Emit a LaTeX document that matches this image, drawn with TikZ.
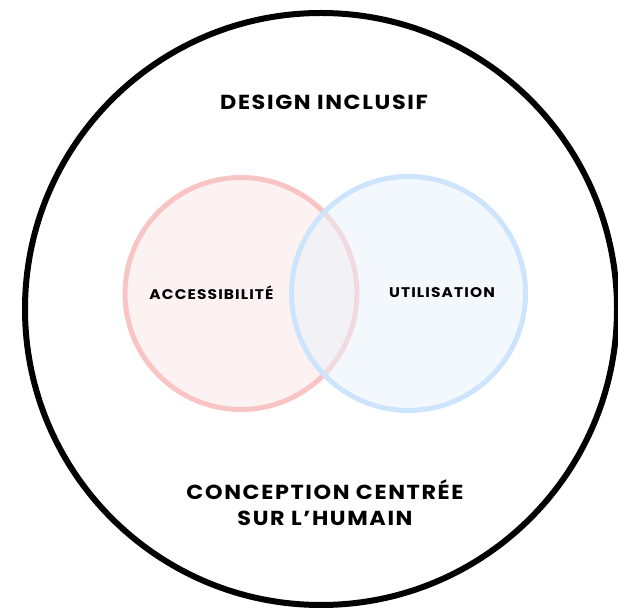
\documentclass[tikz,border=0pt]{standalone}
\usepackage{fontspec}
\setmainfont{Poppins}
\newfontfamily\largefont[FakeStretch=1.1,LetterSpace=8]{Poppins}
\usetikzlibrary{positioning}
\definecolor{rosebord}{RGB}{249,196,196}
\definecolor{rosefond}{RGB}{253,242,242}
\definecolor{bleubord}{RGB}{204,229,252}
\definecolor{bleufond}{RGB}{232,241,251}

\begin{document}
\begin{tikzpicture}[x=1pt,y=1pt,
                every node/.style = {inner sep=0pt},
                rond/.style = {circle, draw, minimum size=#1},
                titre/.style = {font=\largefont\bfseries\fontsize{20.3}{26}\selectfont, align=center},
                mot/.style = {font=\largefont\bfseries\fontsize{14}{16}\selectfont}]
                \useasboundingbox (0,0) rectangle (618,610);
                % grand cercle
                \node[rond=592pt, line width=6pt] (humain) at (321,301) {};
                % les deux cercles
                \node[rond=232pt, draw=rosebord, fill=rosefond, line width=5pt] (acc) at (241,316.5) {};
                \node[rond=234pt, draw=bleubord, fill=bleufond, fill opacity=.5, draw opacity=1, line width=5pt] (util) at (408.5,316.5) {};
                \node[mot] (tacc) at (211.5,317) {ACCESSIBILITÉ};
                \node[mot] (tutil) at (442,317) {UTILISATION};
                % textes
                \node[titre] (inclusif) at (324,508) {DESIGN INCLUSIF};
                \node[titre] (centree) at (325,107.5) {CONCEPTION CENTRÉE\\SUR L’HUMAIN};
            \end{tikzpicture}
\end{document}
